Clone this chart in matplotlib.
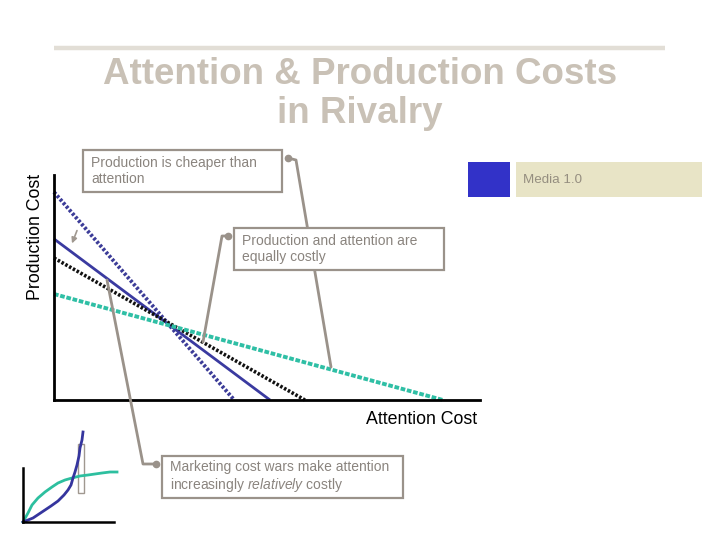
import matplotlib
matplotlib.use("Agg")
import matplotlib.pyplot as plt
from matplotlib.patches import Rectangle

plt.rcParams['font.family'] = ['Liberation Sans', 'DejaVu Sans']
plt.rcParams['mathtext.fontset'] = 'custom'
plt.rcParams['mathtext.rm'] = 'Liberation Sans'
plt.rcParams['mathtext.it'] = 'Liberation Sans:italic'

# ---- data (main chart: attention cost on x, production cost on y, 0..100 scale) ----
line_names = ["blue_dotted", "blue_solid", "black_dotted", "teal_dotted"]
y_intercepts = [92.4, 71.6, 63.1, 47.1]
x_intercepts = [42.3, 50.7, 58.9, 91.3]

# inset curves (small diagram, bottom left)
inset_blue_x = [0, 10, 19, 28, 35, 41, 45, 48, 50, 52, 54, 56, 57, 59, 60]
inset_blue_y = [0, 4, 10, 16, 21, 27, 32, 37, 44, 50, 57, 66, 74, 82, 90]
inset_teal_x = [0, 5, 9, 15, 22, 29, 35, 42, 49, 57, 65, 72, 79, 87, 94]
inset_teal_y = [0, 9, 17, 24, 30, 35, 39, 42, 44, 46, 47, 48, 49, 50, 50]

title_text = "Attention & Production Costs\nin Rivalry"
legend_label = "Media 1.0"
xlabel = "Attention Cost"
ylabel = "Production Cost"
callout_texts = ["Production is cheaper than\nattention",
                 "Production and attention are\nequally costly",
                 "Marketing cost wars make attention\nincreasingly $\\it{relatively}$ costly"]

W, H = 720, 540
fig = plt.figure(figsize=(7.2, 5.4), dpi=100)

def px_axes(x0, y0, x1, y1):
    return fig.add_axes([x0 / W, 1 - y1 / H, (x1 - x0) / W, (y1 - y0) / H])

# ---- main chart ----
ax = px_axes(54, 175, 480, 400)
ax.set_xlim(0, 100)
ax.set_ylim(0, 100)
styles = {
    "blue_dotted": dict(color="#3c3c98", lw=2.8, ls=(0, (0.7, 0.5))),
    "blue_solid": dict(color="#3a3aa0", lw=2.0, ls="-"),
    "black_dotted": dict(color="#111111", lw=2.6, ls=(0, (0.7, 0.5))),
    "teal_dotted": dict(color="#2fbfa5", lw=2.8, ls=(0, (1.2, 0.45))),
}
for name, y0, x0 in zip(line_names, y_intercepts, x_intercepts):
    ax.plot([0, x0], [y0, 0], solid_capstyle="butt", dash_capstyle="butt",
            clip_on=False, **styles[name])
for s in ["top", "right"]:
    ax.spines[s].set_visible(False)
for s in ["left", "bottom"]:
    ax.spines[s].set_linewidth(2.0)
    ax.spines[s].set_color("black")
ax.set_xticks([])
ax.set_yticks([])
ax.patch.set_alpha(0)

# ---- inset ----
ai = px_axes(23, 430, 125, 522)
ai.set_xlim(0, 102)
ai.set_ylim(0, 92)
ai.plot(inset_teal_x, inset_teal_y, color="#2dbf9f", lw=2.0, clip_on=False)
ai.plot(inset_blue_x, inset_blue_y, color="#35359e", lw=2.0, clip_on=False)
ai.add_patch(Rectangle((55.3, 29), 6, 49, fill=False, ec="#a09890", lw=1.0))
for s in ["top", "right"]:
    ai.spines[s].set_visible(False)
ai.spines["left"].set_bounds(0, 54)
ai.spines["bottom"].set_bounds(0, 91)
for s in ["left", "bottom"]:
    ai.spines[s].set_linewidth(1.8)
    ai.spines[s].set_color("black")
ai.set_xticks([])
ai.set_yticks([])
ai.patch.set_alpha(0)

# ---- overlay in pixel coordinates for slide decorations ----
ov = fig.add_axes([0, 0, 1, 1])
ov.set_xlim(0, W)
ov.set_ylim(H, 0)
ov.axis("off")
ov.patch.set_alpha(0)

ov.plot([54, 665], [48, 48], color="#e2ded6", lw=3.2, solid_capstyle="butt")
ov.text(360, 94, title_text, ha="center", va="center", fontsize=26.5,
        fontweight="bold", color="#c9c1b6", linespacing=1.12)

ov.text(35, 237, ylabel, rotation=90, ha="center", va="center", fontsize=12.8, color="black")
ov.text(366, 420, xlabel, ha="left", va="center", fontsize=12.8, color="black")

gray = "#9a928a"
txt_gray = "#8a847e"
boxes = [(83, 150, 282, 192), (234, 228, 444, 270), (162, 456, 403, 498)]
for (x0, y0, x1, y1), t in zip(boxes, callout_texts):
    ov.add_patch(Rectangle((x0, y0), x1 - x0, y1 - y0, fc="white", ec=gray, lw=1.6, zorder=3))
    ov.text(x0 + 8, (y0 + y1) / 2, t, ha="left", va="center", fontsize=10,
            color=txt_gray, linespacing=1.2, zorder=4)

connectors = [
    ([288, 296, 331], [158, 160, 367]),
    ([228, 222, 203], [236, 236, 342]),
    ([156, 143, 107], [464, 464, 280]),
]
for xs, ys in connectors:
    ov.plot(xs, ys, color=gray, lw=2.0, solid_capstyle="round", zorder=2)
    ov.plot(xs[0], ys[0], "o", color=gray, ms=4.5, zorder=2)

ov.annotate("", xy=(71, 246), xytext=(78, 228),
            arrowprops=dict(arrowstyle="-|>", color="#a09890", lw=1.2, mutation_scale=8))

# legend
ov.add_patch(Rectangle((468, 162), 42, 35, color="#3232c8", lw=0))
ov.add_patch(Rectangle((516, 162), 186, 35, color="#e8e4c6", lw=0))
ov.text(523, 180, legend_label, ha="left", va="center", fontsize=9.6, color="#958e80")

fig.savefig("out.png", dpi=100)
